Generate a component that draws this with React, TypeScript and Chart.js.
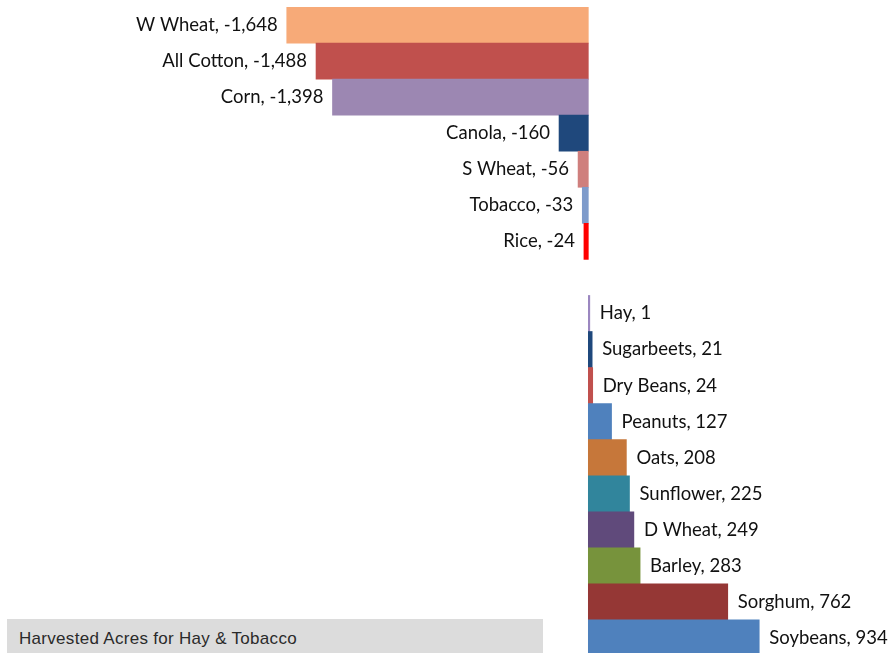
import React, { useEffect, useRef } from "react";
import { Chart, registerables } from "chart.js";

Chart.register(...registerables);

const categories: string[] = [
  "W Wheat", "All Cotton", "Corn", "Canola", "S Wheat", "Tobacco", "Rice", "",
  "Hay", "Sugarbeets", "Dry Beans", "Peanuts", "Oats", "Sunflower", "D Wheat", "Barley", "Sorghum", "Soybeans",
];
const values: (number | null)[] = [
  -1648, -1488, -1398, -160, -56, -33, -24, null,
  1, 21, 24, 127, 208, 225, 249, 283, 762, 934,
];
const barColors: string[] = [
  "#F7AA78", "#C0504D", "#9C87B2", "#1F487C", "#CF7F7D", "#7E9BCB", "#FF0000", "#FFFFFF",
  "#9B87C0", "#1F487C", "#C0504D", "#4F81BD", "#C6773A", "#31859C", "#604A7B", "#77933C", "#953735", "#4F81BD",
];
const noteText = "Harvested Acres for Hay & Tobacco";

const fmt = (v: number) => v.toLocaleString("en-US");

const labelPlugin = {
  id: "barLabels",
  afterDatasetsDraw(chart: any) {
    const ctx = chart.ctx;
    const meta = chart.getDatasetMeta(0);
    ctx.save();
    ctx.font = "18.5px Lato";
    ctx.fillStyle = "#111111";
    ctx.textBaseline = "middle";
    meta.data.forEach((el: any, i: number) => {
      const v = values[i];
      if (v === null || v === undefined) return;
      const text = `${categories[i]}, ${fmt(v)}`;
      if (v < 0) {
        ctx.textAlign = "right";
        ctx.fillText(text, el.x - 9, el.y);
      } else {
        ctx.textAlign = "left";
        ctx.fillText(text, el.x + 10, el.y);
      }
    });
    ctx.restore();
  },
};

export default function App() {
  const ref = useRef<HTMLCanvasElement | null>(null);
  useEffect(() => {
    if (!ref.current) return;
    const chart = new Chart(ref.current, {
      type: "bar",
      data: {
        labels: categories,
        datasets: [
          {
            data: values,
            backgroundColor: barColors,
            categoryPercentage: 1,
            barPercentage: 1,
            minBarLength: 1.5,
            borderWidth: 0,
          },
        ],
      },
      options: {
        indexAxis: "y",
        animation: false,
        responsive: false,
        layout: { padding: { top: 7, bottom: 4, left: 0, right: 0 } },
        plugins: { legend: { display: false }, tooltip: { enabled: false } },
        scales: {
          x: { display: false, min: -3215, max: 1665 },
          y: { display: false },
        },
      },
      plugins: [labelPlugin],
    });
    return () => chart.destroy();
  }, []);
  return (
    <div style={{ position: "fixed", left: 0, top: 0, width: 893, height: 660, background: "#fff" }}>
      <canvas ref={ref} width={893} height={660} style={{ width: 893, height: 660, display: "block" }} />
      <div
        style={{
          position: "absolute",
          left: 7,
          top: 619,
          width: 524,
          height: 41,
          paddingLeft: 12,
          background: "#DCDCDC",
          fontFamily: "Arial, 'Liberation Sans', sans-serif",
          fontSize: 17,
          letterSpacing: "0.3px",
          color: "#2A2A2A",
          lineHeight: "40px",
          whiteSpace: "nowrap",
        }}
      >
        {noteText}
      </div>
    </div>
  );
}
